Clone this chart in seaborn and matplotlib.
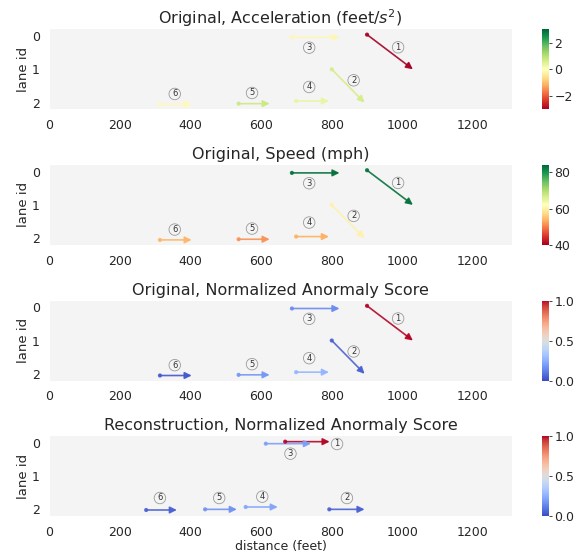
import matplotlib
matplotlib.use("Agg")
import numpy as np
import pandas as pd
import seaborn as sns
import matplotlib.pyplot as plt
from matplotlib.colors import Normalize
from matplotlib.cm import ScalarMappable

# ---------------- data ----------------
vehicle_ids = [1, 2, 3, 4, 5, 6]

orig_x_start = [900, 800, 687, 699, 536, 313]
orig_x_end = [1030, 893, 822, 792, 624, 403]
orig_lane_start = [-0.04, 1.0, 0.04, 1.95, 2.03, 2.05]
orig_lane_end = [1.0, 2.0, 0.04, 1.95, 2.03, 2.05]
orig_label_x = [988, 862, 736, 736, 574, 355]
orig_label_y = [0.34, 1.33, 0.35, 1.53, 1.71, 1.74]

acceleration = [-3.0, 0.65, -0.15, 0.35, 0.75, -0.1]
speed = [83, 60, 83, 53.5, 51.5, 54]
orig_score = [1.0, 0.05, 0.15, 0.27, 0.18, 0.03]

recon_x_start = [668, 793, 613, 556, 441, 274]
recon_x_end = [794, 893, 741, 647, 531, 361]
recon_lane_start = [-0.03, 2.0, 0.03, 1.93, 2.0, 2.02]
recon_lane_end = [-0.03, 2.0, 0.03, 1.93, 2.0, 2.02]
recon_label_x = [815, 843, 683, 603, 481, 313]
recon_label_y = [0.04, 1.66, 0.33, 1.62, 1.66, 1.66]
recon_score = [1.0, 0.05, 0.2, 0.22, 0.17, 0.05]

titles = ["Original, Acceleration (feet/$s^2$)",
          "Original, Speed (mph)",
          "Original, Normalized Anormaly Score",
          "Reconstruction, Normalized Anormaly Score"]
x_ticks = [0, 200, 400, 600, 800, 1000, 1200]
lane_ticks = [0, 1, 2]

# ---------------- style ----------------
sns.set_theme(style="white", rc={"axes.facecolor": "#f4f4f4"})
plt.rcParams['font.family'] = ['DejaVu Sans']
TEXT = "#262626"

fig = plt.figure(figsize=(5.83, 5.54), dpi=100)

panels = [
    dict(xs=orig_x_start, xe=orig_x_end, ys=orig_lane_start, ye=orig_lane_end,
         lx=orig_label_x, ly=orig_label_y, val=acceleration, cmap="RdYlGn",
         vmin=-3, vmax=3, cticks=[-2, 0, 2]),
    dict(xs=orig_x_start, xe=orig_x_end, ys=orig_lane_start, ye=orig_lane_end,
         lx=orig_label_x, ly=orig_label_y, val=speed, cmap="RdYlGn",
         vmin=40, vmax=84, cticks=[40, 60, 80]),
    dict(xs=orig_x_start, xe=orig_x_end, ys=orig_lane_start, ye=orig_lane_end,
         lx=orig_label_x, ly=orig_label_y, val=orig_score, cmap="coolwarm",
         vmin=0, vmax=1, cticks=[0.0, 0.5, 1.0]),
    dict(xs=recon_x_start, xe=recon_x_end, ys=recon_lane_start, ye=recon_lane_end,
         lx=recon_label_x, ly=recon_label_y, val=recon_score, cmap="coolwarm",
         vmin=0, vmax=1, cticks=[0.0, 0.5, 1.0]),
]

W, H = 583.0, 554.0
left = 49.5 / W
width = (511.7 - 49.5) / W
ax_h = 80.0 / H
tops_px = [29.3, 164.9, 300.5, 436.0]
cb_left = 541.7 / W
cb_w = 7.3 / W

for i, p in enumerate(panels):
    bottom = 1 - (tops_px[i] + 80.0) / H
    ax = fig.add_axes([left, bottom, width, ax_h])
    cax = fig.add_axes([cb_left, bottom, cb_w, ax_h])
    cmap = plt.get_cmap(p["cmap"])
    norm = Normalize(p["vmin"], p["vmax"])

    df = pd.DataFrame({"x": p["xs"], "lane": p["ys"], "v": p["val"]})
    sns.scatterplot(data=df, x="x", y="lane", hue="v", palette=p["cmap"],
                    hue_norm=norm, legend=False, s=9, linewidth=0, alpha=0.9,
                    ax=ax, zorder=3)
    for j in range(len(vehicle_ids)):
        c = cmap(norm(p["val"][j]))
        ax.annotate("", xy=(p["xe"][j], p["ye"][j]), xytext=(p["xs"][j], p["ys"][j]),
                    arrowprops=dict(arrowstyle="-|>,head_length=0.4,head_width=0.2",
                                    mutation_scale=10, color=c, alpha=0.9,
                                    lw=1.2, shrinkA=0, shrinkB=0), zorder=2)
        ax.text(p["lx"][j], p["ly"][j], str(vehicle_ids[j]), fontsize=6,
                ha="center", va="center", color="#333333",
                bbox=dict(boxstyle="circle,pad=0.15", fc="none", ec="#9a9a9a", lw=0.6))

    ax.set_xlim(0, 1310)
    ax.set_ylim(2.2, -0.2)
    ax.set_xticks(x_ticks)
    ax.set_yticks(lane_ticks)
    ax.tick_params(axis="both", length=0, pad=7, labelsize=9, colors=TEXT)
    for s in ax.spines.values():
        s.set_visible(False)
    ax.set_ylabel("lane id", fontsize=9.5, color=TEXT, labelpad=1)
    if i == 3:
        ax.set_xlabel("distance (feet)", fontsize=9, color=TEXT, labelpad=1)
    else:
        ax.set_xlabel("")
    ax.set_title(titles[i], fontsize=11.5, color=TEXT, pad=4)

    cb = fig.colorbar(ScalarMappable(norm=norm, cmap=cmap), cax=cax)
    cb.set_ticks(p["cticks"])
    cb.outline.set_visible(False)
    cax.tick_params(length=2.5, width=0.6, pad=1.5, labelsize=9, colors=TEXT)

fig.savefig("out.png", dpi=100)
